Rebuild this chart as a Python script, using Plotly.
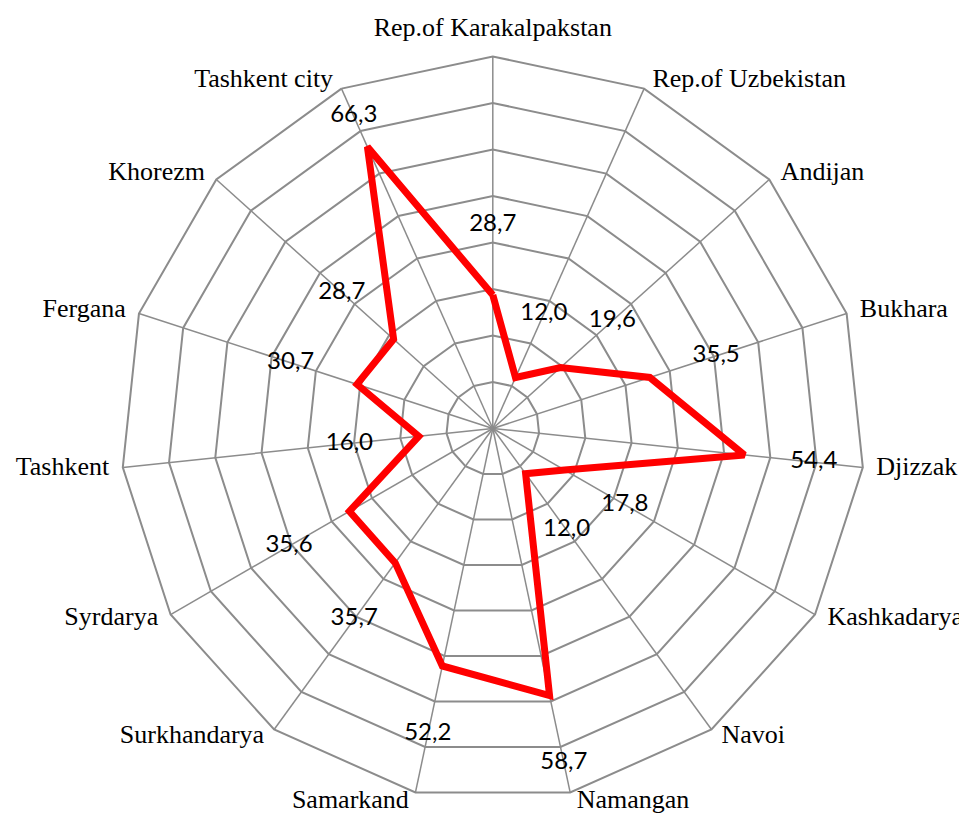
import math
import plotly.graph_objects as go

categories = ["Rep.of Karakalpakstan", "Rep.of Uzbekistan", "Andijan", "Bukhara", "Djizzak",
              "Kashkadarya", "Navoi", "Namangan", "Samarkand", "Surkhandarya", "Syrdarya",
              "Tashkent", "Fergana", "Khorezm", "Tashkent city"]
values = [28.7, 12.0, 19.6, 35.5, 54.4, 17.8, 12.0, 58.7, 52.2, 35.7, 35.6, 16.0, 30.7, 28.7, 66.3]
ring_values = [10, 20, 30, 40, 50, 60, 70, 80]

R_MAX = 80
LABEL_OFFSET = 15
LABEL_CAP = 73.5
CAT_PAD = 1.9  # radial units beyond the outer ring for category labels
GRID = "#8C8C8C"

label_r = [min(v + LABEL_OFFSET, LABEL_CAP) for v in values]
label_text = [f"{v:.1f}".replace(".", ",") for v in values]

n = len(categories)
cat_pos = []
for i in range(n):
    a = math.radians(360.0 * i / n)
    s, c = math.sin(a), math.cos(a)
    v = "top" if c > 0.99 else ("bottom" if c < -0.99 else "middle")
    h = "right" if s > 0.05 else ("left" if s < -0.05 else "center")
    cat_pos.append(f"{v} {h}")

# spokes from the centre to the outer ring
spoke_r, spoke_t = [], []
for cat in categories:
    spoke_r += [0, R_MAX, None]
    spoke_t += [cat, cat, None]

fig = go.Figure()
fig.add_trace(go.Scatterpolar(
    r=spoke_r, theta=spoke_t, mode="lines",
    line=dict(color=GRID, width=1.5),
    connectgaps=False, hoverinfo="skip", showlegend=False,
))
fig.add_trace(go.Scatterpolar(
    r=values + values[:1],
    theta=categories + categories[:1],
    mode="lines",
    line=dict(color="#FF0000", width=7),
    hoverinfo="skip",
    showlegend=False,
))
fig.add_trace(go.Scatterpolar(
    r=label_r,
    theta=categories,
    mode="text",
    text=label_text,
    textfont=dict(family="Lato", size=24, color="#000000"),
    cliponaxis=False,
    hoverinfo="skip",
    showlegend=False,
))
fig.add_trace(go.Scatterpolar(
    r=[R_MAX + CAT_PAD] * n,
    theta=categories,
    mode="markers+text",
    text=categories,
    textposition=cat_pos,
    marker=dict(size=0, opacity=0),
    textfont=dict(family="Liberation Serif", size=26, color="#000000"),
    cliponaxis=False,
    hoverinfo="skip",
    showlegend=False,
))

fig.update_layout(
    width=967, height=817,
    margin=dict(l=0, r=0, t=0, b=0),
    paper_bgcolor="white",
    plot_bgcolor="white",
    showlegend=False,
    polar=dict(
        domain=dict(x=[97.4 / 967, 872.2 / 967], y=[1 - 807.9 / 817, 1 - 33.1 / 817]),
        bgcolor="white",
        gridshape="linear",
        radialaxis=dict(
            range=[0, R_MAX + 3.3], tickvals=ring_values, showticklabels=False, ticks="",
            showline=False, gridcolor=GRID, gridwidth=1.5,
        ),
        angularaxis=dict(
            rotation=90, direction="clockwise",
            showline=False, showgrid=False, ticks="",
            showticklabels=False,
        ),
    ),
)

fig.write_html("out.html")
